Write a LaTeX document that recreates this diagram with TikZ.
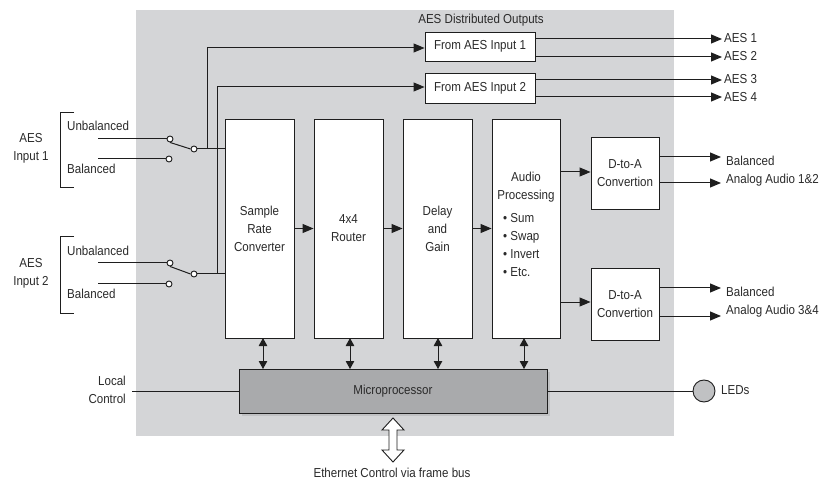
\documentclass[tikz,border=0pt]{standalone}
\usepackage{fontspec}
\setmainfont{Liberation Sans}[FakeStretch=0.89]
\usetikzlibrary{arrows.meta}
\definecolor{bgc}{HTML}{D4D5D7}
\definecolor{mpc}{HTML}{A9AAAC}
\definecolor{shc}{HTML}{C0C1C3}
\definecolor{txc}{HTML}{2A2A2A}
\definecolor{lnc}{HTML}{1E1E1E}
\tikzset{
  box/.style={draw=lnc, line width=0.9pt, fill=white, inner sep=0pt, align=center, text=txc},
  lbl/.style={inner sep=0pt, text=txc, align=center},
  wire/.style={draw=lnc, line width=1pt},
  arr/.style={wire, -{Triangle[length=11pt,width=9pt]}},
  darr/.style={wire, {Triangle[length=8pt,width=8.5pt]}-{Triangle[length=8pt,width=8.5pt]}},
  contact/.style={circle, draw=lnc, line width=0.9pt, fill=white, inner sep=0pt, minimum size=6pt},
}
\begin{document}
\begin{tikzpicture}[x=1pt,y=-1pt, font=\fontsize{13}{18}\selectfont]
\useasboundingbox (0,0) rectangle (833,481);
\fill[bgc] (136,10) rectangle (674,436);

\node[lbl] (title) at (481,20) {AES Distributed Outputs};

% Distributed output boxes
\node[box, minimum width=110pt, minimum height=29pt] (fa1) at (480,46.5) {From AES Input 1};
\node[box, minimum width=110pt, minimum height=30pt] (fa2) at (480,88) {From AES Input 2};

% main processing boxes
\node[box, minimum width=69pt, minimum height=219pt] (src) at (259.5,228.5) {Sample\\Rate\\Converter};
\node[box, minimum width=69pt, minimum height=219pt] (rtr) at (348.5,228.5) {4x4\\Router};
\node[box, minimum width=69pt, minimum height=219pt] (dly) at (437.5,228.5) {Delay\\and\\Gain};
\node[box, minimum width=68pt, minimum height=219pt] (ap) at (526,228.5) {};
\node[lbl] (apt) at (526,187) {Audio\\Processing};
\node[lbl, anchor=west, align=left] (apl) at (503,245) {\textbullet\ Sum\\\textbullet\ Swap\\\textbullet\ Invert\\\textbullet\ Etc.};

% D-to-A boxes
\node[box, minimum width=68pt, minimum height=72pt] (da1) at (625,173) {D-to-A\\Convertion};
\node[box, minimum width=68pt, minimum height=72pt] (da2) at (625,304) {D-to-A\\Convertion};

% Microprocessor
\fill[shc] (242,372) rectangle (550,416);
\node[box, fill=mpc, minimum width=308pt, minimum height=44pt] (mp) at (393,391) {Microprocessor};

% inputs
\node[lbl] (in1) at (31,148) {AES\\Input 1};
\node[lbl] (in2) at (31,273) {AES\\Input 2};
\node[lbl, anchor=west] (ub1) at (67,126) {Unbalanced};
\node[lbl, anchor=west] (b1) at (67,169) {Balanced};
\node[lbl, anchor=west] (ub2) at (67,251) {Unbalanced};
\node[lbl, anchor=west] (b2) at (67,294) {Balanced};
\draw[wire] (74,113) -- (60,113) -- (60,188) -- (74,188);
\draw[wire] (74,237) -- (60,237) -- (60,313) -- (74,313);

\node[contact] (cu1) at (170,139) {};
\node[contact] (cb1) at (169,159) {};
\node[contact] (pv1) at (194,149) {};
\node[contact] (cu2) at (170,263) {};
\node[contact] (cb2) at (169,284) {};
\node[contact] (pv2) at (194,274) {};
\coordinate (su1) at (98,139);
\coordinate (sb1) at (98,159);
\coordinate (su2) at (98,263);
\coordinate (sb2) at (98,284);
\draw[wire] (su1) -- (cu1.west);
\draw[wire] (sb1) -- (cb1.west);
\draw[wire] (su2) -- (cu2.west);
\draw[wire] (sb2) -- (cb2.west);
\draw[wire] (cu1.south) -- (pv1.west);
\draw[wire] (cu2.south) -- (pv2.west);
\draw[wire] (pv1.east) -- (pv1 -| src.west);
\draw[wire] (pv2.east) -- (pv2 -| src.west);

\coordinate (j1) at (207,149);
\coordinate (j2) at (217,274);
\draw[arr] (j1) -- (207,48) -- (fa1.west |- 0,48);
\draw[arr] (j2) -- (217,87) -- (fa2.west |- 0,87);

% distributed outputs
\coordinate (o1) at (722,39);
\coordinate (o2) at (722,57);
\coordinate (o3) at (722,80);
\coordinate (o4) at (722,97);
\draw[arr] (fa1.east |- o1) -- (o1);
\draw[arr] (fa1.east |- o2) -- (o2);
\draw[arr] (fa2.east |- o3) -- (o3);
\draw[arr] (fa2.east |- o4) -- (o4);
\node[lbl, anchor=west] (a1) at (724,38) {AES 1};
\node[lbl, anchor=west] (a2) at (724,56) {AES 2};
\node[lbl, anchor=west] (a3) at (724,79) {AES 3};
\node[lbl, anchor=west] (a4) at (724,97) {AES 4};

% chain arrows
\draw[arr] (src.east) -- (rtr.west);
\draw[arr] (rtr.east) -- (dly.west);
\draw[arr] (dly.east) -- (ap.west);
\draw[arr] (ap.east |- 0,172) -- (da1.west |- 0,172);
\draw[arr] (ap.east |- 0,302) -- (da2.west |- 0,302);

% analog outputs
\coordinate (q1) at (721,157);
\coordinate (q2) at (721,183);
\coordinate (q3) at (721,288);
\coordinate (q4) at (721,316);
\draw[arr] (da1.east |- q1) -- (q1);
\draw[arr] (da1.east |- q2) -- (q2);
\draw[arr] (da2.east |- q3) -- (q3);
\draw[arr] (da2.east |- q4) -- (q4);
\node[lbl, anchor=west, align=left] (ana1) at (726,171) {Balanced\\Analog Audio 1\&2};
\node[lbl, anchor=west, align=left] (ana2) at (726,302) {Balanced\\Analog Audio 3\&4};

% micro connections
\draw[darr] (263,338) -- (263 ,369);
\draw[darr] (350,338) -- (350,369);
\draw[darr] (438,338) -- (438,369);
\draw[darr] (524,338) -- (524,369);

\node[lbl, anchor=east, align=right] (lc) at (126,390) {Local\\Control};
\coordinate (lcw) at (132,391);
\draw[wire] (lcw) -- (mp.west);
\node[circle, draw=lnc, line width=0.9pt, fill=shc, minimum size=22pt, inner sep=0pt] (led) at (704,391) {};
\draw[wire] (mp.east) -- (led.west);
\node[lbl, anchor=west] (ledt) at (721,390) {LEDs};

% ethernet
\draw[draw=lnc, line width=0.9pt, fill=white] (393,418) -- (404,430) -- (397,430) -- (397,450) -- (404,450) -- (393,462) -- (382,450) -- (389,450) -- (389,430) -- (382,430) -- cycle;
\node[lbl] (eth) at (392,473) {Ethernet Control via frame bus};
\end{tikzpicture}
\end{document}
